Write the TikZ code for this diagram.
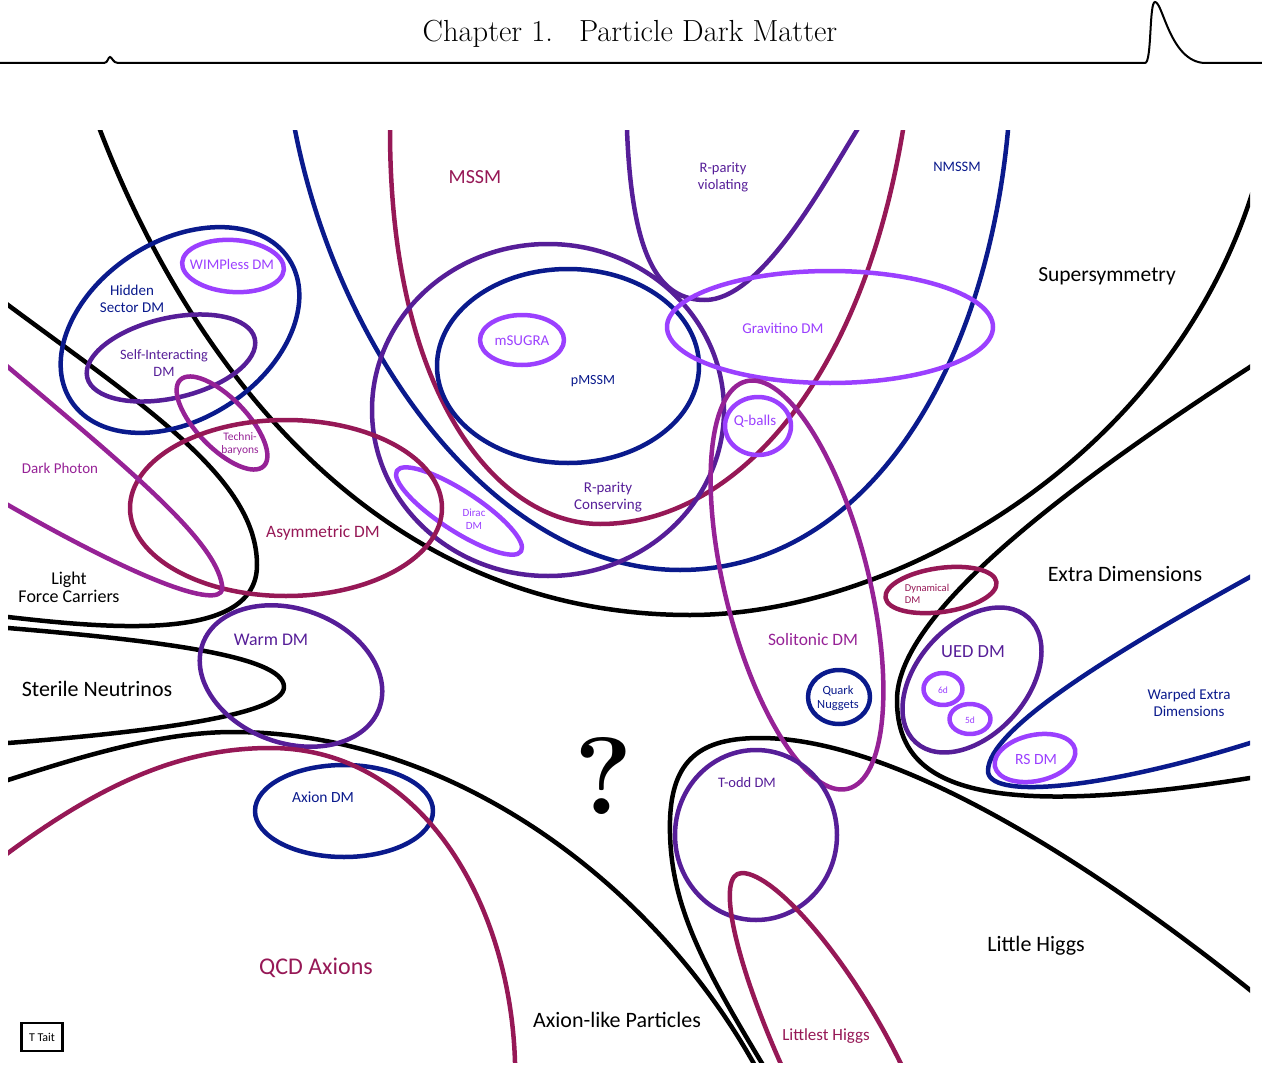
\documentclass[tikz,border=0pt]{standalone}
\usepackage{fontspec}
\usepackage{xcolor}
\usepackage{tikz}
\newfontfamily\gill{Carlito}
\definecolor{dmnavy}{RGB}{10,26,140}
\definecolor{dmviolet}{RGB}{86,30,152}
\definecolor{dmcrimson}{RGB}{150,24,86}
\definecolor{dmlilac}{RGB}{155,64,255}
\definecolor{dmorchid}{RGB}{150,34,150}

\begin{document}
\begin{tikzpicture}[x=1pt, y=-1pt,
    curve/.style={line width=4.5pt, line join=round},
    lbl/.style 2 args={font=\gill\fontsize{#1}{#2}\selectfont, inner sep=0pt, align=center}]
    \useasboundingbox (0,0) rectangle (1262,1065);

    % Running head
    \node (chapter) at (630,34) {\fontsize{30.5}{36}\selectfont Chapter 1.\hspace{0.85em}Particle Dark Matter};
    \draw[line width=2pt] (0,63) -- (104,63) .. controls (108,63) and (108,57) .. (110,57) .. controls (112,57) and (113,63) .. (118,63) -- (1145,63) .. controls (1152,63) and (1149,2) .. (1155,2) .. controls (1163,2) and (1170,62) .. (1205,63) -- (1262,63);

    \begin{scope}
    \clip (8,130) rectangle (1250,1062);
    % Black borders between the big families
    \draw[curve] (95,117) -- (100,130) .. controls (186,354) and (370,615) .. (690,615) .. controls (890,615) and (1161.5,465.7) .. (1250,200) -- (1256,182);
    \draw[curve] (1265,357) -- (1250,367) .. controls (1040.5,503) and (897,620) .. (897,700) .. controls (897,785) and (973.4,821.7) .. (1250,778) -- (1265,775.6);
    \draw[curve] (766,1070) -- (760,1060) .. controls (700,960) and (668,900) .. (670,820) .. controls (672,760) and (700,738) .. (760,738) .. controls (900,738) and (1100,870) .. (1250,990) -- (1265,1002);
    \draw[curve] (-5,784.5) -- (8,780) .. controls (80,757) and (160,732) .. (233,732) .. controls (450,732) and (650,880) .. (753,1062) -- (760,1075);
    \draw[curve] (-5,627) -- (8,628) .. controls (150,640) and (284,655) .. (284,687) .. controls (284,715) and (150,732) .. (8,743) -- (-5,744);
    \draw[curve] (-5,295) -- (8,305) .. controls (150,410) and (257,480) .. (257,565) .. controls (257,640) and (120,630) .. (8,617) -- (-5,616);

    % Supersymmetry
    \draw[curve, dmcrimson] (390,115) -- (390,130) .. controls (390,400) and (500,524) .. (600,524) .. controls (730,524) and (860,390) .. (903,130) -- (905,115);
    \draw[curve, dmnavy] (292,115) -- (295,130) .. controls (340,360) and (500,570) .. (680,570) .. controls (860,570) and (985,380) .. (1008,130) -- (1009,115);
    \draw[curve, dmviolet] (626,115) -- (627,130) .. controls (632,260) and (660,300) .. (705,300) .. controls (760,300) and (820,190) .. (857,130) -- (866,115);
    \draw[curve, dmviolet] (548,410) ellipse (176 and 166);
    \draw[curve, dmnavy] (568,366) ellipse (131 and 97);
    \draw[curve, dmlilac] (522,340) ellipse (42 and 25);
    \draw[curve, dmlilac] (830,327) ellipse (163 and 56);
    \draw[curve, dmlilac] (758,426) ellipse (33 and 29);
    \draw[curve, dmlilac, rotate around={-33:(459,511)}] (459,511) ellipse (74 and 20);

    % Hidden sector corner
    \draw[curve, dmnavy, rotate around={33:(180,330)}] (180,330) ellipse (130 and 89);
    \draw[curve, dmlilac, rotate around={-4:(233,266)}] (233,266) ellipse (51 and 26);
    \draw[curve, dmviolet, rotate around={13:(171,358)}] (171,358) ellipse (86 and 40);
    \draw[curve, dmorchid, rotate around={-46:(222,423)}] (222,423) ellipse (60 and 25);
    \draw[curve, dmcrimson] (286,508) ellipse (156 and 88);
    \draw[curve, dmorchid] (-5,356) -- (8,367) .. controls (130,470) and (215,540) .. (222,585) .. controls (228,610) and (160,592) .. (8,505) -- (-5,497);

    % Neutrinos and axions
    \draw[curve, dmviolet, rotate around={-20:(291,676)}] (291,676) ellipse (94 and 67);
    \draw[curve, dmnavy] (344,811) ellipse (89 and 46);
    \draw[curve, dmcrimson] (-5,863) -- (8,853) .. controls (100,785) and (180,748) .. (270,748) .. controls (420,748) and (510,900) .. (515,1062) -- (515,1075);

    % Solitons and little Higgs
    \draw[curve, dmorchid, rotate around={14:(797,585)}] (797,585) ellipse (72 and 210);
    \draw[curve, dmnavy] (839,697) ellipse (31 and 27);
    \draw[curve, dmviolet] (756,835) ellipse (81 and 85);
    \draw[curve, dmcrimson] (785,1073) -- (780,1062) .. controls (735,960) and (715,873) .. (742,873) .. controls (775,873) and (850,960) .. (900,1062) -- (906,1073);

    % Extra dimensions
    \draw[curve, dmcrimson, rotate around={8:(941,590)}] (941,590) ellipse (56 and 22);
    \draw[curve, dmviolet, rotate around={48:(972,680)}] (972,680) ellipse (84 and 55);
    \draw[curve, dmlilac] (943,689) ellipse (19.5 and 16);
    \draw[curve, dmlilac] (970,719) ellipse (20.5 and 15);
    \draw[curve, dmnavy] (1265,569) -- (1250,577) .. controls (1100,660) and (990,730) .. (988,770) .. controls (986,800) and (1100,790) .. (1250,743) -- (1265,738);
    \draw[curve, dmlilac, rotate around={12:(1035,758)}] (1035,758) ellipse (41 and 23);
    \end{scope}

    % Labels
    \node[lbl={20}{22}, text=dmcrimson] (mssm) at (475,177) {MSSM};
    \node[lbl={14.5}{17}, text=dmviolet] (rpv) at (723,177) {R-parity\\violating};
    \node[lbl={14.5}{16}, text=dmnavy] (nmssm) at (957,167) {NMSSM};
    \node[lbl={21.5}{24}] (susy) at (1107,276) {Supersymmetry};
    \node[lbl={15}{17}, text=dmlilac] (gravitino) at (783,328) {Gravitino DM};
    \node[lbl={15}{17}, text=dmlilac] (msugra) at (522,341) {mSUGRA};
    \node[lbl={14}{16}, text=dmnavy] (pmssm) at (593,381) {pMSSM};
    \node[lbl={15}{17}, text=dmlilac] (qballs) at (755,421) {Q-balls};
    \node[lbl={15}{17}, text=dmviolet] (rpc) at (608,497) {R-parity\\Conserving};
    \node[lbl={15}{17}, text=dmnavy] (hidden) at (132,299) {Hidden\\Sector DM};
    \node[lbl={14.7}{17}, text=dmlilac] (wimpless) at (232,264) {WIMPless DM};
    \node[lbl={14.3}{17}, text=dmviolet] (selfint) at (164,363) {Self-Interacting\\DM};
    \node[lbl={11.5}{13}, text=dmorchid] (techni) at (240,444) {Techni-\\baryons};
    \node[lbl={15}{17}, text=dmorchid] (darkphoton) at (60,468) {Dark Photon};
    \node[lbl={17.4}{19}, text=dmcrimson] (asym) at (323,533) {Asymmetric DM};
    \node[lbl={11}{13}, text=dmlilac] (dirac) at (474,519) {Dirac\\DM};
    \node[lbl={18}{18}] (light) at (69,587) {Light\\Force Carriers};
    \node[lbl={22}{24}] (sterile) at (97,689) {Sterile Neutrinos};
    \node[lbl={17.8}{20}, text=dmviolet] (warm) at (271,640) {Warm DM};
    \node[lbl={15.5}{17}, text=dmnavy] (axiondm) at (323,797) {Axion DM};
    \node[lbl={24}{26}, text=dmcrimson] (qcd) at (316,968) {QCD Axions};
    \node[font=\fontsize{110}{110}\selectfont\bfseries, inner sep=0pt] (question) at (604,776) {?};
    \node[lbl={22}{24}] (alp) at (617,1020) {Axion-like Particles};
    \node[lbl={17.4}{19}, text=dmorchid] (solitonic) at (813,640) {Solitonic DM};
    \node[lbl={12.5}{14}, text=dmnavy] (nuggets) at (838,698) {Quark\\Nuggets};
    \node[lbl={14.5}{16}, text=dmviolet] (todd) at (747,783) {T-odd DM};
    \node[lbl={17}{19}, text=dmcrimson] (littlest) at (826,1036) {Littlest Higgs};
    \node[lbl={22}{24}] (littlehiggs) at (1036,946) {Little Higgs};
    \node[lbl={10.5}{11.5}, text=dmcrimson, align=left] (dynamical) at (927,594) {Dynamical\\DM};
    \node[lbl={18.5}{20}, text=dmviolet] (ued) at (973,652) {UED DM};
    \node[lbl={9.5}{10}, text=dmlilac] (sixd) at (943,690) {6d};
    \node[lbl={9.5}{10}, text=dmlilac] (fived) at (970,720) {5d};
    \node[lbl={22}{24}] (extradim) at (1125,574) {Extra Dimensions};
    \node[lbl={15}{17}, text=dmnavy] (warped) at (1189,703) {Warped Extra\\Dimensions};
    \node[lbl={15.6}{17}, text=dmlilac] (rsdm) at (1036,759) {RS DM};
    \node[lbl={12}{13}, draw, line width=2.5pt, minimum width=41, minimum height=28] (tait) at (42,1037) {T Tait};
\end{tikzpicture}
\end{document}
